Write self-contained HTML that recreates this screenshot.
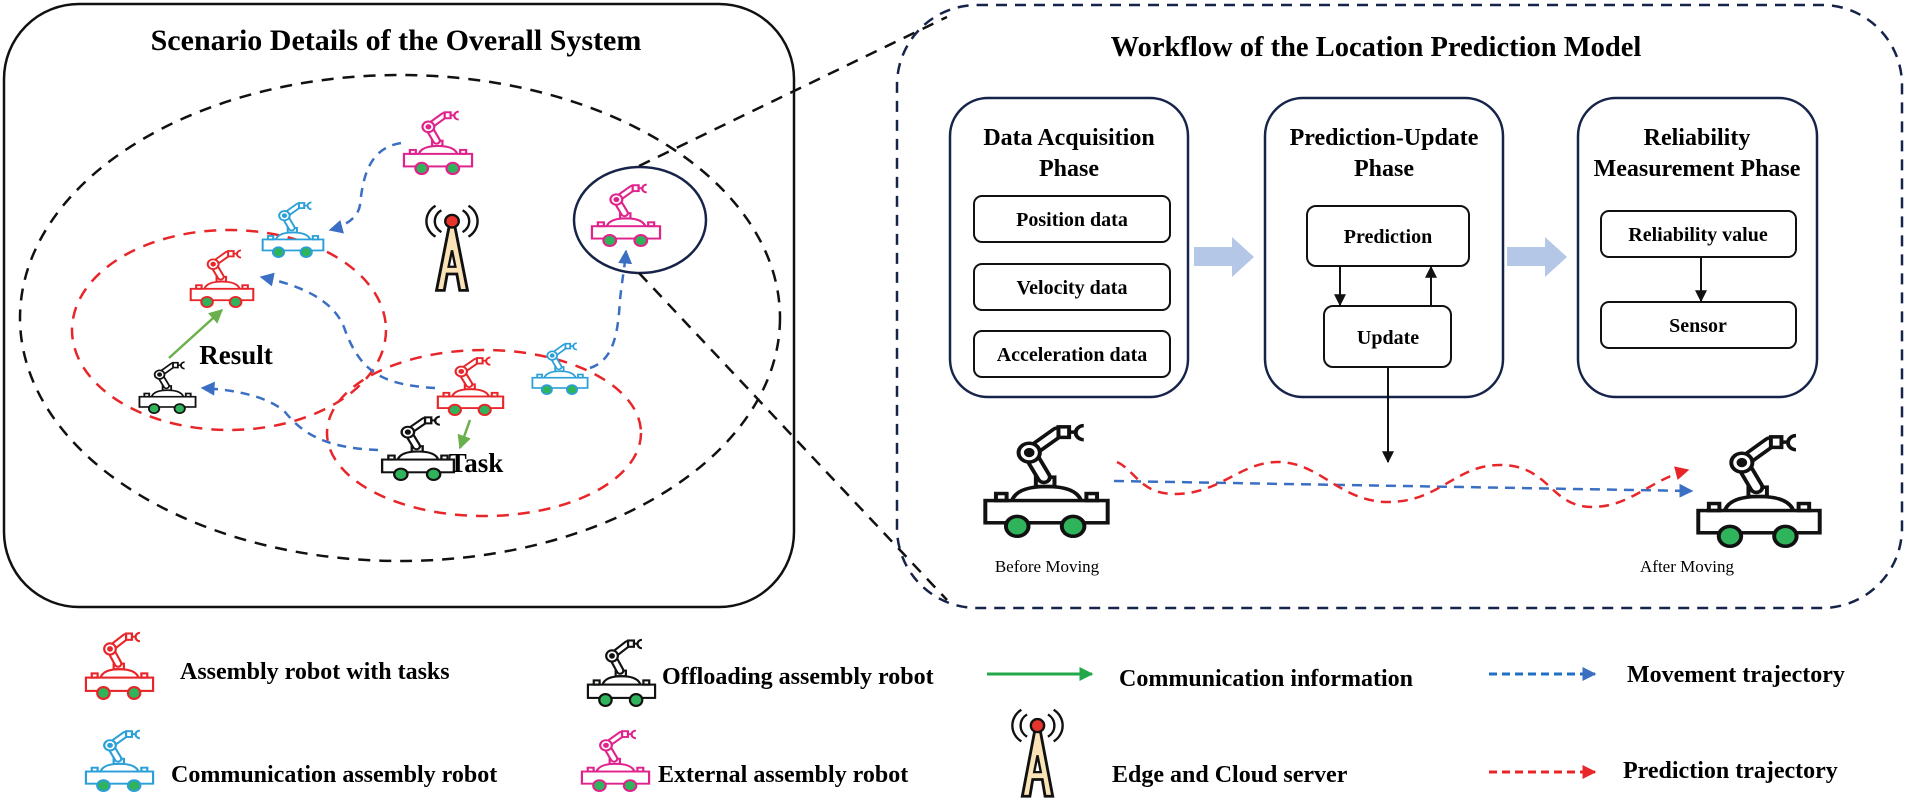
<!DOCTYPE html>
<html><head><meta charset="utf-8"><style>
html,body{margin:0;padding:0;background:#fff}
svg{display:block}
text{font-family:"Liberation Serif",serif}
</style></head><body>
<svg width="1907" height="803" viewBox="0 0 1907 803" xmlns="http://www.w3.org/2000/svg">
<defs>
<symbol id="robot" viewBox="0 0 100 100" preserveAspectRatio="none">
 <g fill="none" stroke="currentColor" stroke-width="3">
  <rect x="4" y="68" width="92" height="19" fill="#fff"/>
  <rect x="12" y="62" width="8" height="6"/>
  <rect x="80" y="62" width="8" height="6"/>
  <path d="M24,68 Q28,56 50,56 Q72,56 76,68"/>
  <rect x="42" y="48" width="14" height="8"/>
  <line x1="48" y1="48" x2="37" y2="27" stroke-width="12" stroke-linecap="round"/>
  <line x1="48" y1="48" x2="37" y2="27" stroke="#fff" stroke-width="6" stroke-linecap="round"/>
  <line x1="37" y1="27" x2="58" y2="10" stroke-width="11" stroke-linecap="round"/>
  <line x1="37" y1="27" x2="58" y2="10" stroke="#fff" stroke-width="5" stroke-linecap="round"/>
  <circle cx="37" cy="27" r="8" fill="#fff"/>
  <circle cx="37" cy="27" r="2.5" fill="currentColor"/>
  <rect x="59" y="5" width="8" height="9" fill="#fff"/>
  <line x1="67" y1="9.5" x2="71" y2="9.5"/>
  <path d="M78,4 A6 6 0 1 0 78,16"/>
  <circle cx="28" cy="90" r="8.5" fill="#2fb35b"/>
  <circle cx="70" cy="90" r="8.5" fill="#2fb35b"/>
 </g>
</symbol>
<symbol id="antenna" viewBox="0 0 60 100" preserveAspectRatio="none">
 <g fill="none" stroke="#111" stroke-width="2.5">
  <path d="M19,8 A14 14 0 0 0 19,32"/><path d="M13,3 A20 20 0 0 0 13,37"/>
  <path d="M41,8 A14 14 0 0 1 41,32"/><path d="M47,3 A20 20 0 0 1 47,37"/>
  <path d="M27,26 L33,26 L46,96 L38,96 L35,78 L25,78 L22,96 L14,96 Z" fill="#fbe3b8" stroke-width="3"/>
  <path d="M30,52 L33.5,70 L26.5,70 Z" fill="#fff"/>
  <circle cx="30" cy="20" r="7" fill="#e8352c"/>
 </g>
</symbol>
<marker id="mb" viewBox="0 0 10 10" refX="9" refY="5" markerWidth="14" markerHeight="14" markerUnits="userSpaceOnUse" orient="auto"><path d="M0,0 L10,5 L0,10 Z" fill="#3b6fc4"/></marker>
<marker id="mr" viewBox="0 0 10 10" refX="9" refY="5" markerWidth="14" markerHeight="14" markerUnits="userSpaceOnUse" orient="auto"><path d="M0,0 L10,5 L0,10 Z" fill="#e8262a"/></marker>
<marker id="mg" viewBox="0 0 10 10" refX="9" refY="5" markerWidth="14" markerHeight="14" markerUnits="userSpaceOnUse" orient="auto"><path d="M0,0 L10,5 L0,10 Z" fill="#6ab04c"/></marker>
<marker id="mg2" viewBox="0 0 10 10" refX="9" refY="5" markerWidth="14" markerHeight="14" markerUnits="userSpaceOnUse" orient="auto"><path d="M0,0 L10,5 L0,10 Z" fill="#22a84a"/></marker>
<marker id="mk" viewBox="0 0 10 10" refX="9" refY="5" markerWidth="12" markerHeight="12" markerUnits="userSpaceOnUse" orient="auto"><path d="M0,0 L10,5 L0,10 Z" fill="#111"/></marker>
</defs>

<rect x="4" y="4" width="790" height="603" rx="75" ry="75" fill="none" stroke="#111" stroke-width="2.5"/>
<text x="396" y="50" font-size="30" font-weight="bold" text-anchor="middle">Scenario Details of the Overall System</text>
<ellipse cx="400" cy="318" rx="380" ry="243" fill="none" stroke="#111" stroke-width="2.5" stroke-dasharray="12,9"/>
<ellipse cx="229" cy="330" rx="157" ry="100" fill="none" stroke="#e8262a" stroke-width="2.5" stroke-dasharray="12,9"/>
<ellipse cx="484" cy="433" rx="157" ry="83" fill="none" stroke="#e8262a" stroke-width="2.5" stroke-dasharray="12,9"/>
<ellipse cx="640" cy="220" rx="66" ry="53" fill="none" stroke="#16244a" stroke-width="2.5"/>

<line x1="639" y1="166" x2="947" y2="17" stroke="#111" stroke-width="2.5" stroke-dasharray="12,9"/>
<line x1="639" y1="273" x2="947" y2="600" stroke="#111" stroke-width="2.5" stroke-dasharray="12,9"/>

<use href="#robot" x="401" y="109" width="74" height="66" style="color:#e0238c"/>
<use href="#robot" x="260" y="200" width="66" height="58" style="color:#2a9fd8"/>
<use href="#robot" x="188" y="248" width="68" height="60" style="color:#e8262a"/>
<use href="#robot" x="137" y="360" width="61" height="54" style="color:#111"/>
<use href="#robot" x="435" y="355" width="71" height="61" style="color:#e8262a"/>
<use href="#robot" x="379" y="414" width="78" height="67" style="color:#111"/>
<use href="#robot" x="530" y="341" width="60" height="54" style="color:#2a9fd8"/>
<use href="#robot" x="589" y="182" width="74" height="65" style="color:#e0238c"/>
<use href="#antenna" x="423" y="203" width="58" height="91"/>

<g fill="none" stroke="#3b6fc4" stroke-width="2.5" stroke-dasharray="9,7">
 <path d="M401,143 C370,148 363,175 360,205 C358,218 345,226 330,230" marker-end="url(#mb)"/>
 <path d="M435,388 C380,385 360,370 345,330 C335,300 300,285 261,277" marker-end="url(#mb)"/>
 <path d="M378,450 C320,448 300,430 285,412 C270,398 240,390 202,388" marker-end="url(#mb)"/>
 <path d="M590,368 C615,360 618,330 620,300 C622,280 625,265 626,251" marker-end="url(#mb)"/>
</g>
<line x1="169" y1="358" x2="222" y2="310" stroke="#6ab04c" stroke-width="2.5" marker-end="url(#mg)"/>
<line x1="470" y1="420" x2="460" y2="448" stroke="#6ab04c" stroke-width="2.5" marker-end="url(#mg)"/>
<text x="236" y="364" font-size="27" font-weight="bold" text-anchor="middle">Result</text>
<text x="476" y="472" font-size="27" font-weight="bold" text-anchor="middle">Task</text>

<rect x="897" y="5" width="1005" height="603" rx="80" ry="80" fill="none" stroke="#16244a" stroke-width="2.5" stroke-dasharray="11,8"/>
<text x="1376" y="56" font-size="28.5" font-weight="bold" text-anchor="middle">Workflow of the Location Prediction Model</text>

<g fill="none" stroke="#16244a" stroke-width="2.5">
 <rect x="950" y="98" width="238" height="299" rx="38"/>
 <rect x="1265" y="98" width="238" height="299" rx="38"/>
 <rect x="1578" y="98" width="239" height="299" rx="38"/>
</g>
<g fill="none" stroke="#111" stroke-width="2">
 <rect x="974" y="196" width="196" height="46" rx="8"/>
 <rect x="974" y="264" width="196" height="46" rx="8"/>
 <rect x="974" y="331" width="196" height="46" rx="8"/>
 <rect x="1307" y="206" width="162" height="60" rx="9"/>
 <rect x="1324" y="306" width="127" height="61" rx="9"/>
 <rect x="1601" y="211" width="195" height="46" rx="8"/>
 <rect x="1601" y="302" width="195" height="46" rx="8"/>
</g>
<g font-weight="bold" text-anchor="middle">
 <text x="1069" y="145" font-size="24">Data Acquisition</text>
 <text x="1069" y="176" font-size="24">Phase</text>
 <text x="1384" y="145" font-size="24">Prediction-Update</text>
 <text x="1384" y="176" font-size="24">Phase</text>
 <text x="1697" y="145" font-size="24">Reliability</text>
 <text x="1697" y="176" font-size="24">Measurement Phase</text>
 <text x="1072" y="226" font-size="20">Position data</text>
 <text x="1072" y="294" font-size="20">Velocity data</text>
 <text x="1072" y="361" font-size="20">Acceleration data</text>
 <text x="1388" y="243" font-size="20">Prediction</text>
 <text x="1388" y="344" font-size="20">Update</text>
 <text x="1698" y="241" font-size="20">Reliability value</text>
 <text x="1698" y="332" font-size="20">Sensor</text>
</g>
<g stroke="#111" stroke-width="2">
 <line x1="1340" y1="266" x2="1340" y2="305" marker-end="url(#mk)"/>
 <line x1="1431" y1="306" x2="1431" y2="267" marker-end="url(#mk)"/>
 <line x1="1701" y1="257" x2="1701" y2="301" marker-end="url(#mk)"/>
 <line x1="1388" y1="367" x2="1388" y2="462" marker-end="url(#mk)"/>
</g>
<polygon points="1194,247 1232,247 1232,237 1254,257 1232,277 1232,266 1194,266" fill="#b4c7e7"/>
<polygon points="1507,247 1545,247 1545,237 1567,257 1545,277 1545,266 1507,266" fill="#b4c7e7"/>

<use href="#robot" x="980" y="421" width="133" height="117" style="color:#111"/>
<use href="#robot" x="1693" y="431" width="132" height="117" style="color:#111"/>
<text x="1047" y="572" font-size="17" text-anchor="middle">Before Moving</text>
<text x="1687" y="572" font-size="17" text-anchor="middle">After Moving</text>
<line x1="1114" y1="481" x2="1692" y2="491" stroke="#3b6fc4" stroke-width="2.5" stroke-dasharray="10,7" marker-end="url(#mb)"/>
<path d="M1117,462 C1135,470 1140,494 1175,494 C1220,494 1240,462 1278,462 C1320,462 1340,502 1388,502 C1440,502 1455,465 1500,465 C1550,465 1550,507 1592,507 C1630,507 1650,480 1688,470" fill="none" stroke="#e8262a" stroke-width="2.5" stroke-dasharray="10,7" marker-end="url(#mr)"/>

<use href="#robot" x="83" y="630" width="73" height="70" style="color:#e8262a"/>
<use href="#robot" x="585" y="637" width="73" height="70" style="color:#111"/>
<use href="#robot" x="83" y="728" width="73" height="64" style="color:#2a9fd8"/>
<use href="#robot" x="579" y="728" width="73" height="64" style="color:#e0238c"/>
<use href="#antenna" x="1009" y="707" width="57" height="93"/>
<line x1="987" y1="674" x2="1092" y2="674" stroke="#22a84a" stroke-width="3" marker-end="url(#mg2)"/>
<line x1="1489" y1="674" x2="1595" y2="674" stroke="#1f6fc4" stroke-width="3" stroke-dasharray="8,5" marker-end="url(#mb)"/>
<line x1="1489" y1="772" x2="1595" y2="772" stroke="#e8262a" stroke-width="3" stroke-dasharray="8,5" marker-end="url(#mr)"/>
<g font-size="24" font-weight="bold">
 <text x="180" y="679">Assembly robot with tasks</text>
 <text x="662" y="684">Offloading assembly robot</text>
 <text x="1119" y="686">Communication information</text>
 <text x="1627" y="682">Movement trajectory</text>
 <text x="171" y="782">Communication assembly robot</text>
 <text x="658" y="782">External assembly robot</text>
 <text x="1112" y="782">Edge and Cloud server</text>
 <text x="1623" y="778">Prediction trajectory</text>
</g>
</svg>
</body></html>
